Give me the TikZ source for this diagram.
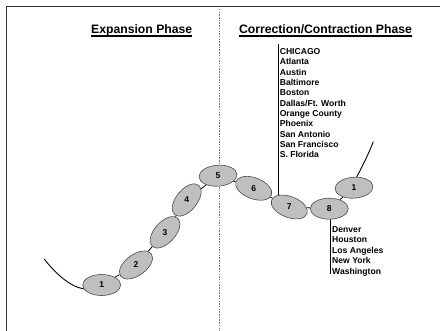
\documentclass[tikz,border=0pt]{standalone}
\usepackage{fontspec}
\setmainfont{Liberation Sans}
\usetikzlibrary{shapes.geometric,backgrounds}
\begin{document}
\begin{tikzpicture}[x=1pt,y=-1pt,
  bead/.style={ellipse, draw=black!70, fill=black!25, line width=0.6pt,
    minimum width=38pt, minimum height=21pt, inner sep=0pt},
  num/.style={font=\fontsize{8.5}{10}\selectfont\bfseries, inner sep=0pt},
  city/.style={font=\fontsize{8.6}{10}\selectfont\bfseries, inner sep=0pt, anchor=base west},
  phasetitle/.style={font=\fontsize{12.2}{14}\selectfont\bfseries, inner sep=0pt, anchor=base},
  link/.style={line width=0.8pt, black},
  tail/.style={line width=0.9pt, black}]
\useasboundingbox (0,0) rectangle (440,331);
% frame
\draw[line width=1.4pt, black!80] (6.6,331) -- (6.6,6.8) -- (440,6.8);
% divider
\draw[black!55, line width=0.6pt, dash pattern=on 1.5pt off 1.2pt] (219,9) -- (219,331);
% titles
\node[phasetitle] (tE) at (141.7,33.6) {Expansion Phase};
\node[phasetitle] (tC) at (325.5,33.6) {Correction/Contraction Phase};
\draw[line width=1.1pt] ([yshift=-2.4pt]tE.base west) -- ([yshift=-2.4pt]tE.base east);
\draw[line width=1.1pt] ([yshift=-2.4pt]tC.base west) -- ([yshift=-2.4pt]tC.base east);
% beads
\node[bead] (b1) at (101.7,285) {};
\node[bead, rotate=36] (b2) at (136,265) {};
\node[bead, rotate=48] (b3) at (165,232.3) {};
\node[bead, rotate=51] (b4) at (186.7,200) {};
\node[bead, rotate=4] (b5) at (218,175.7) {};
\node[bead, rotate=-21] (b6) at (253.7,188.3) {};
\node[bead, rotate=-21] (b7) at (289.3,207) {};
\node[bead] (b8) at (329.3,208.7) {};
\node[bead, rotate=4] (b9) at (354,187.7) {};
\node[num] (n1) at (b1) {1};
\node[num] (n2) at (b2) {2};
\node[num] (n3) at (b3) {3};
\node[num] (n4) at (b4) {4};
\node[num] (n5) at (b5) {5};
\node[num] (n6) at (b6) {6};
\node[num] (n7) at (b7) {7};
\node[num] (n8) at (b8) {8};
\node[num] (n9) at (b9) {1};
% connectors between beads
\draw[link] (b1) -- (b2);
\draw[link] (b2) -- (b3);
\draw[link] (b3) -- (b4);
\draw[link] (b4) -- (b5);
\draw[link] (b5) -- (b6);
\draw[link] (b6) -- (b7);
\draw[link] (b7) -- (b8);
\draw[link] (b8) -- (b9);
% tails
\coordinate (tl) at (44.3,259);
\draw[tail] (tl) .. controls (54,272) and (70,287) .. (b1.192);
\coordinate (tr) at (373.3,141.7);
\draw[tail] (b9.72) .. controls (363,165) and (369,153) .. (tr);
% city list lines
\coordinate (chtop) at (278,44);
\coordinate (dnbot) at (330.7,274);
\begin{scope}[on background layer]
\draw[link] (chtop) -- (chtop |- b7.center);
\draw[link] (dnbot) -- (dnbot |- b8.center);
\end{scope}
% city lists
\foreach \t [count=\i] in {CHICAGO,Atlanta,Austin,Baltimore,Boston,Dallas/Ft. Worth,Orange County,Phoenix,San Antonio,San Francisco,S. Florida}
  \node[city] (c\i) at (279.6,{54.4+10.35*(\i-1)}) {\t};
\foreach \t [count=\i] in {Denver,Houston,Los Angeles,New York,Washington}
  \node[city] (d\i) at (332,{232.6+10.4*(\i-1)}) {\t};
\end{tikzpicture}
\end{document}
